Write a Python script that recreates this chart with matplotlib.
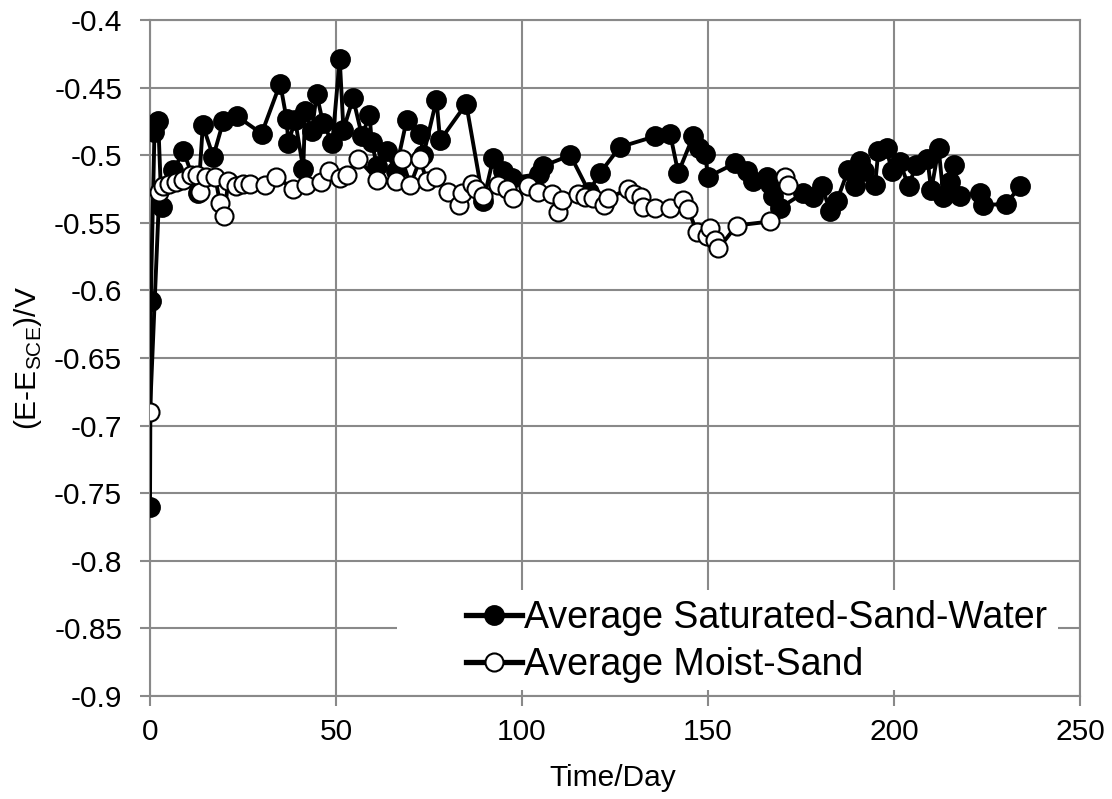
import matplotlib
matplotlib.use("Agg")
import matplotlib.pyplot as plt
from matplotlib.patches import Rectangle

plt.rcParams['font.family'] = ['Liberation Sans', 'DejaVu Sans']
plt.rcParams['mathtext.fontset'] = 'custom'
plt.rcParams['mathtext.rm'] = 'Liberation Sans'

# ---- data ----
sat_days = [0, 0.2, 1.2, 2.2, 3.1, 6.3, 9, 13, 14.2, 17, 19.7, 23.3, 30, 35, 36.7, 37.2,
            39, 41.2, 41.7, 43.5, 44.8, 46.5, 49, 51, 52, 54.6, 57, 59, 59.6, 61, 63.6,
            66, 69, 72.6, 73.5, 77, 78, 85, 89.6, 92.3, 95, 97.2, 104.5, 105.7, 113,
            118, 121, 126.3, 135.8, 139.8, 142, 146, 147.5, 149.2, 150, 157.3, 160.4,
            162, 165.8, 166.8, 167.6, 169.4, 175.6, 178.3, 180.6, 182.8, 184.6, 187.7,
            189.5, 190.9, 192, 194.9, 195.8, 198, 199.4, 201.6, 203.9, 206, 209, 210,
            212, 213.3, 215, 216, 217.7, 223, 224, 230, 234]
sat_vals = [-0.760, -0.608, -0.483, -0.475, -0.538, -0.511, -0.497, -0.528, -0.478, -0.501,
            -0.475, -0.471, -0.484, -0.447, -0.473, -0.491, -0.474, -0.510, -0.467, -0.482,
            -0.455, -0.476, -0.491, -0.429, -0.481, -0.458, -0.486, -0.470, -0.490, -0.508,
            -0.497, -0.512, -0.474, -0.484, -0.500, -0.459, -0.489, -0.462, -0.534, -0.502,
            -0.512, -0.517, -0.514, -0.508, -0.500, -0.527, -0.513, -0.494, -0.486, -0.484,
            -0.513, -0.486, -0.495, -0.499, -0.516, -0.506, -0.512, -0.519, -0.516, -0.521,
            -0.530, -0.539, -0.528, -0.531, -0.523, -0.541, -0.534, -0.511, -0.523, -0.504,
            -0.512, -0.522, -0.497, -0.495, -0.512, -0.505, -0.523, -0.507, -0.503, -0.526,
            -0.495, -0.531, -0.520, -0.507, -0.530, -0.528, -0.537, -0.536, -0.523]

moist_days = [0, 2.5, 3.5, 5, 7, 9, 11, 12.5, 13.4, 15, 17.5, 18.8, 20, 21, 23, 25, 27, 31,
              34, 38.5, 42, 46, 48, 51, 53, 56, 61, 66, 67.7, 70, 72.6, 74.4, 77, 80, 83,
              83.8, 86.5, 87.5, 89.6, 93.6, 96, 97.7, 101.7, 104.4, 108, 109.8, 110.7,
              115, 117, 119, 122, 123, 128.6, 130, 132, 132.6, 135.8, 139.8, 143.3, 144.7,
              147, 149.6, 150.5, 151.9, 152.8, 157.7, 166.7, 170.7, 171.6]
moist_vals = [-0.690, -0.527, -0.523, -0.521, -0.520, -0.518, -0.515, -0.515, -0.527, -0.516,
              -0.516, -0.535, -0.545, -0.519, -0.523, -0.521, -0.521, -0.522, -0.516, -0.525,
              -0.522, -0.520, -0.512, -0.517, -0.515, -0.503, -0.518, -0.519, -0.503, -0.522,
              -0.503, -0.519, -0.516, -0.527, -0.537, -0.528, -0.521, -0.525, -0.530, -0.522,
              -0.525, -0.532, -0.523, -0.527, -0.529, -0.542, -0.533, -0.529, -0.531, -0.532,
              -0.537, -0.532, -0.525, -0.529, -0.531, -0.538, -0.539, -0.539, -0.533, -0.540,
              -0.557, -0.560, -0.554, -0.563, -0.569, -0.552, -0.549, -0.516, -0.522]

series_labels = ['Average Saturated-Sand-Water', 'Average Moist-Sand']
x_ticks = [0, 50, 100, 150, 200, 250]
y_ticks = [-0.9, -0.85, -0.8, -0.75, -0.7, -0.65, -0.6, -0.55, -0.5, -0.45, -0.4]
y_tick_labels = ['-0.9', '-0.85', '-0.8', '-0.75', '-0.7', '-0.65', '-0.6', '-0.55',
                 '-0.5', '-0.45', '-0.4']
x_label = 'Time/Day'
y_label = r'(E-E$_{\mathrm{SCE}}$)/V'

# ---- figure ----
W, H = 1112, 799
fig = plt.figure(figsize=(W / 100, H / 100), dpi=100)
ax = fig.add_axes([150 / W, 1 - 696 / H, 930 / W, 676 / H])

grid_c = '#898989'
ax.set_xlim(0, 250)
ax.set_ylim(-0.9, -0.4)
ax.set_xticks(x_ticks)
ax.set_yticks(y_ticks)
ax.set_yticklabels(y_tick_labels)
ax.grid(True, color=grid_c, linewidth=1.5)
ax.set_axisbelow(True)
for s in ax.spines.values():
    s.set_color(grid_c)
    s.set_linewidth(1.5)
ax.tick_params(axis='both', colors=grid_c, labelcolor='black', labelsize=21.5,
               direction='out', length=7, width=1.5)
ax.tick_params(axis='y', pad=13)
ax.tick_params(axis='x', pad=9)

ax.plot(sat_days, sat_vals, '-o', color='black', linewidth=2.8, markersize=13.5,
        markerfacecolor='black', markeredgecolor='black', markeredgewidth=1.5,
        label=series_labels[0], zorder=3)
ax.plot(moist_days, moist_vals, '-o', color='black', linewidth=2.8, markersize=13,
        markerfacecolor='white', markeredgecolor='black', markeredgewidth=1.5,
        label=series_labels[1], zorder=4)

# legend background box (covers gridlines as in the original)
ax.add_patch(Rectangle((397 / W, 1 - 690 / H), (1058 - 397) / W, 100 / H,
                       transform=fig.transFigure, facecolor='white', edgecolor='none',
                       zorder=1.5, clip_on=False))
leg = ax.legend(loc='upper left', bbox_to_anchor=(466 / W, 1 - 600 / H),
                bbox_transform=fig.transFigure, frameon=False, fontsize=27,
                handlelength=1.5, handletextpad=0.05, labelspacing=0.3,
                borderpad=0.0, borderaxespad=0.0, markerscale=1.0)
for line in leg.get_lines():
    line.set_linewidth(3.8)

fig.text(613 / W, 1 - 778 / H, x_label, ha='center', va='center', fontsize=21.5)
fig.text(28 / W, 1 - 358 / H, y_label, ha='center', va='center', rotation=90,
         fontsize=21.5)

fig.savefig('out.png', dpi=100)
